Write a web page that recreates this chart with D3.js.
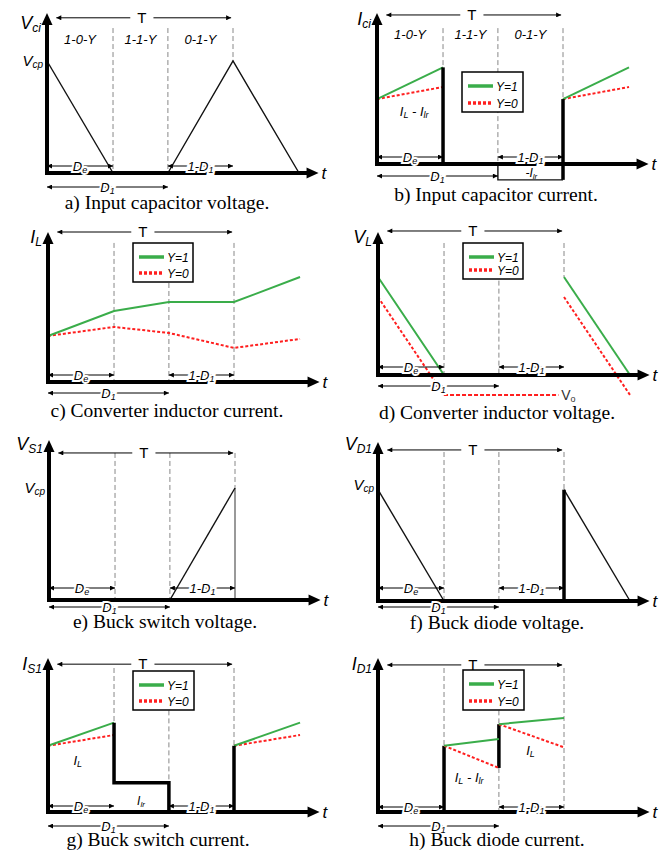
<!DOCTYPE html>
<html>
<head>
<meta charset="utf-8">
<script src="https://cdn.jsdelivr.net/npm/d3@7"></script>
<style>
  body { margin: 0; background: #fff; }
  svg text { font-family: "Liberation Sans", Arial, sans-serif; }
  svg text.cap { font-family: "Liberation Serif", "Times New Roman", serif; }
</style>
</head>
<body>
<svg id="fig" width="661" height="850"></svg>
<script>
// switching instants, as a fraction of the period T
const T = 1;
const De = 0.355;
const D1 = 0.65;
const T2 = T + De;

const phaseLabels = ['1-0-Y', '1-1-Y', '0-1-Y'];
const legendLabels = ['Y=1', 'Y=0'];
const captions = [
  'a) Input capacitor voltage.', 'b) Input capacitor current.',
  'c) Converter inductor current.', 'd) Converter inductor voltage.',
  'e) Buck switch voltage.', 'f) Buck diode voltage.',
  'g) Buck switch current.', 'h) Buck diode current.'
];
const axisNames = [['V', 'ci'], ['I', 'ci'], ['I', 'L'], ['V', 'L'], ['V', 'S1'], ['V', 'D1'], ['I', 'S1'], ['I', 'D1']];

// a) input capacitor voltage
const vciFall = [[0, 7], [De, 0]];
const vciTri = [[D1, 0], [T, 7], [T2, 0]];
// b) input capacitor current
const iciStep = [[De, 6.4], [De, 0]];
const iciNeg = [[D1, 0], [D1, -1.05], [T, -1.05]];
const iciRise = [[T, -1.05], [T, 4.3]];
const iciY1 = [[[0, 4.3], [De, 6.4]], [[T, 4.3], [T2, 6.4]]];
const iciY0 = [[[0, 4.3], [De, 5.1]], [[T, 4.3], [T2, 5.1]]];
// c) converter inductor current
const ilY1 = [[0, 3.07], [De, 4.73], [D1, 5.33], [T, 5.33], [T2, 7.0]];
const ilY0 = [[0, 3.07], [De, 3.67], [D1, 3.27], [T, 2.27], [T2, 2.87]];
// d) converter inductor voltage
const vlY1 = [[[0, 6.85], [De, 0], [T, 0]], [[T, 6.85], [T2, 0]]];
const vlY0 = [[[0, 5.45], [De, -1.4]], [[T, 5.45], [T2, -1.4]]];
const vlVo = [[De, -1.4], [0.97, -1.4]];
// e) buck switch voltage
const vs1Ramp = [[D1, 0], [T, 7]];
const vs1Drop = [[T, 7], [T, 0]];
// f) buck diode voltage
const vd1Fall = [[[0, 7], [De, 0]], [[T, 7], [T2, 0]]];
const vd1Step = [[T, 0], [T, 7]];
// g) buck switch current
const is1Step = [[De, 5.8], [De, 1.9], [D1, 1.9], [D1, 0]];
const is1Rise = [[T, 0], [T, 4.3]];
const is1Y1 = [[[0, 4.3], [De, 5.8]], [[T, 4.3], [T2, 5.8]]];
const is1Y0 = [[[0, 4.3], [De, 5.0]], [[T, 4.3], [T2, 5.0]]];
// h) buck diode current
const id1Steps = [[[De, 0], [De, 4.3]], [[D1, 2.86], [D1, 5.7]]];
const id1Y1 = [[[De, 4.3], [D1, 4.74]], [[D1, 5.7], [T, 6.1]]];
const id1Y0 = [[[De, 4.3], [D1, 2.86]], [[D1, 5.7], [T, 4.2]]];

const PX_T = 186;
const green = '#3aad4a';
const red = '#ff1f1f';

const svg = d3.select('#fig');
svg.append('rect').attr('width', 661).attr('height', 850).attr('fill', '#fff');

svg.append('defs').append('marker')
  .attr('id', 'ah')
  .attr('viewBox', '0 0 10 10')
  .attr('refX', 10).attr('refY', 5)
  .attr('markerWidth', 7).attr('markerHeight', 5)
  .attr('markerUnits', 'userSpaceOnUse')
  .attr('orient', 'auto-start-reverse')
  .append('path').attr('d', 'M0,0L10,5L0,10z').attr('fill', '#000');

const styles = {
  thin: { stroke: '#111', width: 1.4 },
  gray: { stroke: '#555', width: 1.2 },
  thick: { stroke: '#000', width: 3.5 },
  y1: { stroke: green, width: 2 },
  y0: { stroke: red, width: 2, dash: '3,2' },
  vo: { stroke: red, width: 2, dash: '4,2' }
};

function rich(g, x, y, parts, o = {}) {
  const size = o.size || 13;
  const el = g.append('text')
    .attr('x', x).attr('y', y)
    .attr('font-size', size)
    .attr('font-style', o.italic === false ? null : 'italic')
    .attr('text-anchor', o.anchor || 'start')
    .attr('fill', o.fill || '#000');
  if (o.cls) el.attr('class', o.cls);
  if (o.halo) el.attr('stroke', '#fff').attr('stroke-width', 4).attr('paint-order', 'stroke');
  let shift = 0;
  parts.forEach(([s, sub]) => {
    const want = sub ? Math.round(size * 0.15) : 0;
    el.append('tspan')
      .text(s)
      .attr('dy', want - shift)
      .attr('font-size', sub ? Math.round(size * 0.66) : null);
    shift = want;
  });
  return el;
}

function dim(g, xa, xb, y, parts) {
  g.append('line')
    .attr('x1', xa).attr('x2', xb).attr('y1', y).attr('y2', y)
    .attr('stroke', '#000').attr('stroke-width', 1)
    .attr('marker-start', 'url(#ah)').attr('marker-end', 'url(#ah)');
  rich(g, (xa + xb) / 2, y + 4.5, parts, { size: 13, anchor: 'middle', halo: true });
}

const panels = [
  { x0: 47, yAxis: 173, yTop: 13, deOff: 7, d1Off: 14, capY: 209, capX: 167, nameY: 29,
    tY: 9.7, phaseY: 8.4,
    dashes: [[De, 9.06, 0], [D1, 9.06, 0], [T, 9.06, 7]],
    traces: [[vciFall, 'thin'], [vciTri, 'thin']],
    vcp: 7 },
  { x0: 377, yAxis: 164, yTop: 13, deOff: 7, d1Off: 12, capY: 201, capX: 496, nameY: 25,
    tY: 9.87, phaseY: 8.6,
    dashes: [[De, 9, 6.4], [D1, 9, 0], [T, 9, 4.3]],
    traces: [[iciNeg, 'thin'], ...iciY0.map(d => [d, 'y0']), ...iciY1.map(d => [d, 'y1']), [iciStep, 'thick'], [iciRise, 'thick']],
    legend: [462, 72, 61, 40],
    labels: [{ t: 0.2, v: 3.5, parts: [['I'], ['L', 1], [' - I'], ['lr', 1]] },
             { t: 0.83, v: -0.55, parts: [['-I'], ['lr', 1]], size: 12 }] },
  { x0: 48, yAxis: 382, yTop: 232, deOff: 7, d1Off: 11, capY: 417, capX: 167, nameY: 243,
    tY: 10,
    dashes: [[De, 9.27, 0], [D1, 6.6, 0], [T, 9.27, 0]],
    traces: [[ilY0, 'y0'], [ilY1, 'y1']],
    legend: [133, 243, 60, 39] },
  { x0: 378, yAxis: 375, yTop: 232, deOff: 8, d1Off: 11, capY: 419, capX: 497, nameY: 243,
    tY: 10.07,
    dashes: [[De, 9.23, 0], [D1, 6.6, 0], [T, 9.23, 6.85]],
    traces: [...vlY0.map(d => [d, 'y0']), [vlVo, 'vo'], ...vlY1.map(d => [d, 'y1'])],
    legend: [463, 243, 60, 36],
    labels: [{ t: 0.985, v: -1.4, parts: [['V'], ['o', 1]], italic: false, size: 14, fill: '#333', anchor: 'start' }] },
  { x0: 49, yAxis: 600, yTop: 440, deOff: 12, d1Off: 7, capY: 628, capX: 165, nameY: 450,
    tY: 9.19,
    dashes: [[De, 9.19, 0], [D1, 9.19, 0], [T, 9.19, 7]],
    traces: [[vs1Drop, 'gray'], [vs1Ramp, 'thin']],
    vcp: 7 },
  { x0: 378, yAxis: 601, yTop: 442, deOff: 13, d1Off: 6, capY: 629, capX: 497, nameY: 450,
    tY: 9.5,
    dashes: [[De, 9.37, 0], [D1, 9.37, 0], [T, 9.37, 7]],
    traces: [...vd1Fall.map(d => [d, 'thin']), [vd1Step, 'thick']],
    vcp: 7.3 },
  { x0: 48, yAxis: 812, yTop: 658, deOff: 6, d1Off: 14, capY: 846, capX: 158, nameY: 670,
    tY: 9.6,
    dashes: [[De, 9.35, 5.8], [D1, 6.6, 1.9], [T, 9.35, 4.3]],
    traces: [...is1Y0.map(d => [d, 'y0']), ...is1Y1.map(d => [d, 'y1']), [is1Step, 'thick'], [is1Rise, 'thick']],
    legend: [133, 671, 61, 39],
    labels: [{ t: 0.16, v: 3.35, parts: [['I'], ['L', 1]] },
             { t: 0.5, v: 0.75, parts: [['I'], ['lr', 1]], size: 12 }] },
  { x0: 378, yAxis: 812, yTop: 658, deOff: 5, d1Off: 14, capY: 846, capX: 497, nameY: 670,
    tY: 9.55,
    dashes: [[De, 9.35, 4.3], [D1, 6.6, 5.7], [D1, 2.86, 0], [T, 9.35, 0]],
    traces: [...id1Steps.map(d => [d, 'thick']), ...id1Y0.map(d => [d, 'y0']), ...id1Y1.map(d => [d, 'y1'])],
    legend: [463, 670, 61, 40],
    labels: [{ t: 0.49, v: 2.25, parts: [['I'], ['L', 1], [' - I'], ['lr', 1]] },
             { t: 0.82, v: 4.05, parts: [['I'], ['L', 1]] }] }
];

panels.forEach((p, i) => {
  const g = svg.append('g');
  const x = d3.scaleLinear().domain([0, T]).range([p.x0, p.x0 + PX_T]);
  const y = d3.scaleLinear().domain([0, 10]).range([p.yAxis, p.yTop]);
  const ln = d3.line().x(d => x(d[0])).y(d => y(d[1]));
  const x0 = x(0), y0 = y(0);

  // dashed guides
  g.selectAll('line.guide').data(p.dashes).join('line')
    .attr('class', 'guide')
    .attr('x1', d => x(d[0])).attr('x2', d => x(d[0]))
    .attr('y1', d => y(d[1])).attr('y2', d => y(d[2]))
    .attr('stroke', '#888').attr('stroke-width', 1).attr('stroke-dasharray', '5,3');

  // period arrow
  const ty = y(p.tY);
  g.append('line')
    .attr('x1', x(0.05)).attr('x2', x(0.99)).attr('y1', ty).attr('y2', ty)
    .attr('stroke', '#000').attr('stroke-width', 1)
    .attr('marker-start', 'url(#ah)').attr('marker-end', 'url(#ah)');
  const tl = rich(g, x(0.51), ty + 5, [['T']], { size: 15, italic: false, anchor: 'middle' });
  const bb = tl.node().getBBox();
  g.insert('rect', 'text').attr('x', bb.x - 7).attr('y', bb.y).attr('width', bb.width + 14).attr('height', bb.height).attr('fill', '#fff');

  if (p.phaseY) {
    const mids = [[0, De], [De, D1], [D1, T]].map(([a, b]) => (a + b) / 2);
    phaseLabels.forEach((s, k) => rich(g, x(mids[k]), y(p.phaseY) + 5, [[s]], { size: 13, anchor: 'middle' }));
  }

  // waveforms
  p.traces.forEach(([d, s]) => {
    const st = styles[s];
    g.append('path').datum(d).attr('d', ln)
      .attr('fill', 'none').attr('stroke', st.stroke).attr('stroke-width', st.width)
      .attr('stroke-dasharray', st.dash || null)
      .attr('stroke-linejoin', 'miter');
  });

  // axes
  const xEnd = x(1.46);
  g.append('line').attr('x1', x0 - 2).attr('x2', xEnd - 9).attr('y1', y0).attr('y2', y0)
    .attr('stroke', '#000').attr('stroke-width', 4);
  g.append('path').attr('d', `M${xEnd},${y0}L${xEnd - 12},${y0 - 5.5}L${xEnd - 12},${y0 + 5.5}Z`).attr('fill', '#000');
  const yTip = y(10);
  g.append('line').attr('x1', x0).attr('x2', x0).attr('y1', y0 + 2).attr('y2', yTip + 9)
    .attr('stroke', '#000').attr('stroke-width', 4);
  g.append('path').attr('d', `M${x0},${yTip}L${x0 - 5.5},${yTip + 12}L${x0 + 5.5},${yTip + 12}Z`).attr('fill', '#000');
  rich(g, xEnd + 3, y0 + 6, [['t']], { size: 17 });
  rich(g, x0 - 6, p.nameY, [[axisNames[i][0]], [axisNames[i][1], 1]], { size: 18, anchor: 'end' });

  if (p.vcp) rich(g, x0 - 4, y(p.vcp) + 5, [['V'], ['cp', 1]], { size: 15, anchor: 'end' });

  // dimension arrows
  dim(g, x0, x(De), y0 - p.deOff, [['D'], ['e', 1]]);
  dim(g, x(D1), x(T), y0 - p.deOff, [['1-D'], ['1', 1]]);
  dim(g, x0, x(D1), y0 + p.d1Off, [['D'], ['1', 1]]);

  (p.labels || []).forEach(l => rich(g, x(l.t), y(l.v) + 5, l.parts,
    { size: l.size || 13, anchor: l.anchor || 'middle', italic: l.italic, fill: l.fill }));

  if (p.legend) {
    const [lx, ly, lw, lh] = p.legend;
    g.append('rect').attr('x', lx).attr('y', ly).attr('width', lw).attr('height', lh)
      .attr('fill', '#fff').attr('stroke', '#000').attr('stroke-width', 1.5);
    const rows = [[ly + 14, styles.y1], [ly + lh - 9, styles.y0]];
    rows.forEach(([ry, st], k) => {
      g.append('line').attr('x1', lx + 6).attr('x2', lx + 31).attr('y1', ry).attr('y2', ry)
        .attr('stroke', st.stroke).attr('stroke-width', 3.5).attr('stroke-dasharray', st.dash || null);
      rich(g, lx + 34, ry + 4.5, [[legendLabels[k]]], { size: 12 });
    });
  }

  rich(g, p.capX, p.capY, [[captions[i]]], { size: 19.5, italic: false, anchor: 'middle', cls: 'cap' });
});
</script>
</body>
</html>
